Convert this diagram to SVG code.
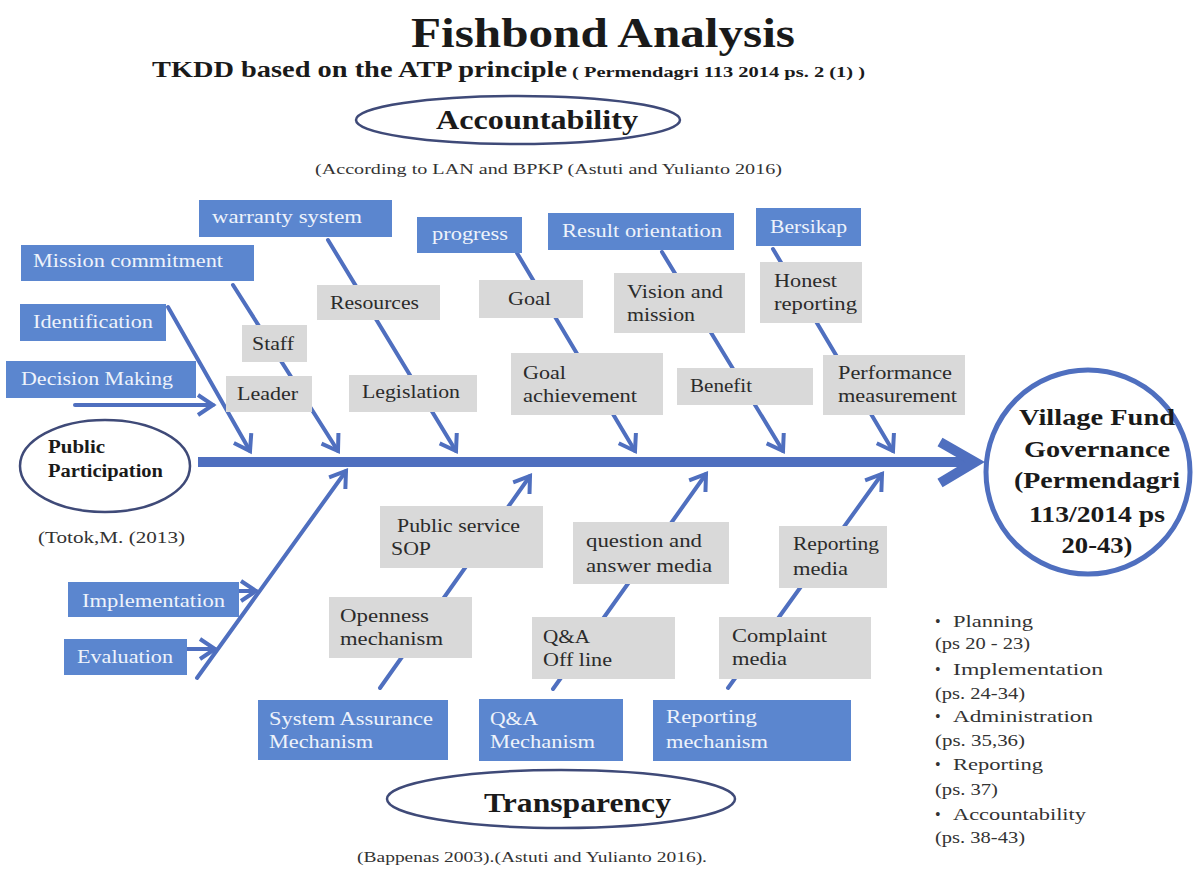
<svg xmlns="http://www.w3.org/2000/svg" width="1199" height="875" viewBox="0 0 1199 875">
<style>
.blue{fill:#5b86cf}
.gray{fill:#d9d9d9}
.bt{font-family:"Liberation Serif",serif;font-size:19px;fill:#eef3fb}
.gt{font-family:"Liberation Serif",serif;font-size:19px;fill:#2b2b2b}
.ln{stroke:#4f6fbf;stroke-width:4;fill:none;stroke-linecap:round}
.el{fill:#fff;stroke:#3f4a78;stroke-width:2.5}
.hd{font-family:"Liberation Serif",serif;font-weight:bold;fill:#1a1a1a}
.ct{font-family:"Liberation Serif",serif;font-size:15px;fill:#333}
.li{font-family:"Liberation Serif",serif;font-size:16px;fill:#333}
</style>
<defs>
<marker id="ah" viewBox="-22 -16 28 32" refX="0" refY="0" markerWidth="28" markerHeight="32" markerUnits="userSpaceOnUse" orient="auto">
<path d="M-15,-10 L0,0 L-15,10" fill="none" stroke="#4f6fbf" stroke-width="4"/>
</marker>
</defs>
<rect width="1199" height="875" fill="#fff"/>

<g id="title">
<text class="hd" x="411" y="47" font-size="42" textLength="384" lengthAdjust="spacingAndGlyphs">Fishbond Analysis</text>
<text class="hd" x="152" y="77" font-size="24" textLength="415" lengthAdjust="spacingAndGlyphs">TKDD based on the ATP principle</text>
<text class="hd" x="572" y="77" font-size="14" textLength="293" lengthAdjust="spacingAndGlyphs">( Permendagri 113 2014 ps. 2 (1) )</text>
</g>

<g id="connectors">
<line x1="198" y1="462" x2="972" y2="462" stroke="#4f6fbf" stroke-width="10"/>
<polyline points="940,442 975,462 940,483" fill="none" stroke="#4f6fbf" stroke-width="10"/>
<line class="ln" x1="168" y1="307" x2="250" y2="451" marker-end="url(#ah)"/>
<line class="ln" x1="233" y1="285" x2="338" y2="451" marker-end="url(#ah)"/>
<line class="ln" x1="328" y1="240" x2="456" y2="451" marker-end="url(#ah)"/>
<line class="ln" x1="517" y1="253" x2="635" y2="451" marker-end="url(#ah)"/>
<line class="ln" x1="662" y1="252" x2="783" y2="451" marker-end="url(#ah)"/>
<line class="ln" x1="773" y1="249" x2="893" y2="451" marker-end="url(#ah)"/>
<line class="ln" x1="75" y1="405" x2="213" y2="405" marker-end="url(#ah)"/>
<line class="ln" x1="197" y1="678" x2="346" y2="471" stroke-width="3" marker-end="url(#ah)"/>
<line class="ln" x1="200" y1="591" x2="256" y2="591" marker-end="url(#ah)"/>
<line class="ln" x1="150" y1="649" x2="215" y2="649" marker-end="url(#ah)"/>
<line class="ln" x1="380" y1="688" x2="530" y2="476" marker-end="url(#ah)"/>
<line class="ln" x1="553" y1="689" x2="706" y2="474" marker-end="url(#ah)"/>
<line class="ln" x1="728" y1="688" x2="882" y2="474" marker-end="url(#ah)"/>
</g>

<g id="accountability">
<ellipse class="el" cx="518" cy="120" rx="162" ry="24"/>
<text class="hd" x="436" y="129" font-size="28" textLength="202" lengthAdjust="spacingAndGlyphs">Accountability</text>
<text class="ct" x="315" y="174" textLength="467" lengthAdjust="spacingAndGlyphs">(According to LAN and BPKP (Astuti and Yulianto 2016)</text>
</g>

<g id="transparency">
<ellipse class="el" cx="561" cy="799" rx="174" ry="29"/>
<text class="hd" x="484" y="812" font-size="27" textLength="187" lengthAdjust="spacingAndGlyphs">Transparency</text>
<text class="ct" x="357" y="862" textLength="350" lengthAdjust="spacingAndGlyphs">(Bappenas 2003).(Astuti and Yulianto 2016).</text>
</g>

<g id="public-participation">
<ellipse class="el" cx="105" cy="466" rx="85" ry="46"/>
<text class="hd" x="48" y="453" font-size="18" textLength="57" lengthAdjust="spacingAndGlyphs">Public</text>
<text class="hd" x="48" y="477" font-size="18" textLength="115" lengthAdjust="spacingAndGlyphs">Participation</text>
<text class="li" x="38" y="543" textLength="147" lengthAdjust="spacingAndGlyphs">(Totok,M. (2013)</text>
</g>

<g id="warranty-system"><rect class="blue" x="199" y="200" width="193" height="37"/><text class="bt" x="212" y="223" textLength="150" lengthAdjust="spacingAndGlyphs">warranty system</text></g>
<g id="mission-commitment"><rect class="blue" x="21" y="245" width="233" height="36"/><text class="bt" x="33" y="267" textLength="190" lengthAdjust="spacingAndGlyphs">Mission commitment</text></g>
<g id="identification"><rect class="blue" x="20" y="304" width="146" height="37"/><text class="bt" x="33" y="328" textLength="120" lengthAdjust="spacingAndGlyphs">Identification</text></g>
<g id="decision-making"><rect class="blue" x="6" y="361" width="190" height="37"/><text class="bt" x="21" y="385" textLength="152" lengthAdjust="spacingAndGlyphs">Decision Making</text></g>
<g id="progress"><rect class="blue" x="417" y="217" width="105" height="36"/><text class="bt" x="432" y="240" textLength="76" lengthAdjust="spacingAndGlyphs">progress</text></g>
<g id="result-orientation"><rect class="blue" x="548" y="213" width="186" height="37"/><text class="bt" x="562" y="237" textLength="160" lengthAdjust="spacingAndGlyphs">Result orientation</text></g>
<g id="bersikap"><rect class="blue" x="756" y="208" width="105" height="38"/><text class="bt" x="770" y="233" textLength="77" lengthAdjust="spacingAndGlyphs">Bersikap</text></g>
<g id="implementation"><rect class="blue" x="68" y="582" width="171" height="35"/><text class="bt" x="82" y="607" textLength="143" lengthAdjust="spacingAndGlyphs">Implementation</text></g>
<g id="evaluation"><rect class="blue" x="64" y="639" width="123" height="36"/><text class="bt" x="77" y="663" textLength="96" lengthAdjust="spacingAndGlyphs">Evaluation</text></g>
<g id="system-assurance"><rect class="blue" x="258" y="700" width="190" height="60"/><text class="bt" x="269" y="725" textLength="164" lengthAdjust="spacingAndGlyphs">System Assurance</text><text class="bt" x="269" y="748" textLength="104" lengthAdjust="spacingAndGlyphs">Mechanism</text></g>
<g id="qa-mechanism"><rect class="blue" x="479" y="699" width="144" height="62"/><text class="bt" x="490" y="725" textLength="48" lengthAdjust="spacingAndGlyphs">Q&amp;A</text><text class="bt" x="490" y="748" textLength="105" lengthAdjust="spacingAndGlyphs">Mechanism</text></g>
<g id="reporting-mechanism"><rect class="blue" x="653" y="700" width="198" height="61"/><text class="bt" x="666" y="723" textLength="91" lengthAdjust="spacingAndGlyphs">Reporting</text><text class="bt" x="666" y="748" textLength="102" lengthAdjust="spacingAndGlyphs">mechanism</text></g>

<g id="staff"><rect class="gray" x="242" y="325" width="65" height="37"/><text class="gt" x="252" y="350" textLength="42" lengthAdjust="spacingAndGlyphs">Staff</text></g>
<g id="leader"><rect class="gray" x="226" y="376" width="86" height="36"/><text class="gt" x="237" y="400" textLength="61" lengthAdjust="spacingAndGlyphs">Leader</text></g>
<g id="resources"><rect class="gray" x="317" y="285" width="123" height="35"/><text class="gt" x="330" y="309" textLength="89" lengthAdjust="spacingAndGlyphs">Resources</text></g>
<g id="legislation"><rect class="gray" x="349" y="375" width="128" height="37"/><text class="gt" x="362" y="398" textLength="98" lengthAdjust="spacingAndGlyphs">Legislation</text></g>
<g id="goal"><rect class="gray" x="479" y="280" width="104" height="38"/><text class="gt" x="508" y="305" textLength="43" lengthAdjust="spacingAndGlyphs">Goal</text></g>
<g id="goal-achievement"><rect class="gray" x="511" y="353" width="152" height="62"/><text class="gt" x="523" y="379" textLength="43" lengthAdjust="spacingAndGlyphs">Goal</text><text class="gt" x="523" y="402" textLength="114" lengthAdjust="spacingAndGlyphs">achievement</text></g>
<g id="vision-mission"><rect class="gray" x="614" y="273" width="131" height="60"/><text class="gt" x="627" y="298" textLength="96" lengthAdjust="spacingAndGlyphs">Vision and</text><text class="gt" x="627" y="321" textLength="68" lengthAdjust="spacingAndGlyphs">mission</text></g>
<g id="benefit"><rect class="gray" x="677" y="368" width="136" height="37"/><text class="gt" x="690" y="392" textLength="62" lengthAdjust="spacingAndGlyphs">Benefit</text></g>
<g id="honest-reporting"><rect class="gray" x="760" y="262" width="102" height="61"/><text class="gt" x="774" y="287" textLength="63" lengthAdjust="spacingAndGlyphs">Honest</text><text class="gt" x="774" y="310" textLength="83" lengthAdjust="spacingAndGlyphs">reporting</text></g>
<g id="performance"><rect class="gray" x="823" y="355" width="142" height="60"/><text class="gt" x="838" y="379" textLength="114" lengthAdjust="spacingAndGlyphs">Performance</text><text class="gt" x="838" y="402" textLength="119" lengthAdjust="spacingAndGlyphs">measurement</text></g>
<g id="public-service-sop"><rect class="gray" x="380" y="506" width="163" height="62"/><text class="gt" x="397" y="532" textLength="123" lengthAdjust="spacingAndGlyphs">Public service</text><text class="gt" x="391" y="555" textLength="40" lengthAdjust="spacingAndGlyphs">SOP</text></g>
<g id="openness"><rect class="gray" x="329" y="597" width="143" height="61"/><text class="gt" x="340" y="622" textLength="89" lengthAdjust="spacingAndGlyphs">Openness</text><text class="gt" x="340" y="645" textLength="103" lengthAdjust="spacingAndGlyphs">mechanism</text></g>
<g id="question-answer"><rect class="gray" x="573" y="522" width="156" height="62"/><text class="gt" x="586" y="547" textLength="116" lengthAdjust="spacingAndGlyphs">question and</text><text class="gt" x="586" y="572" textLength="126" lengthAdjust="spacingAndGlyphs">answer media</text></g>
<g id="qa-offline"><rect class="gray" x="532" y="617" width="143" height="62"/><text class="gt" x="543" y="643" textLength="47" lengthAdjust="spacingAndGlyphs">Q&amp;A</text><text class="gt" x="543" y="666" textLength="69" lengthAdjust="spacingAndGlyphs">Off line</text></g>
<g id="reporting-media"><rect class="gray" x="779" y="526" width="108" height="62"/><text class="gt" x="793" y="550" textLength="86" lengthAdjust="spacingAndGlyphs">Reporting</text><text class="gt" x="793" y="575" textLength="55" lengthAdjust="spacingAndGlyphs">media</text></g>
<g id="complaint-media"><rect class="gray" x="719" y="617" width="152" height="62"/><text class="gt" x="732" y="642" textLength="95" lengthAdjust="spacingAndGlyphs">Complaint</text><text class="gt" x="732" y="665" textLength="55" lengthAdjust="spacingAndGlyphs">media</text></g>

<g id="village-fund">
<circle cx="1088" cy="472" r="102" fill="#fff" stroke="#4f6fbf" stroke-width="5"/>
<g class="hd" font-size="23" text-anchor="middle">
<text x="1097" y="425" textLength="156" lengthAdjust="spacingAndGlyphs">Village Fund</text>
<text x="1097" y="457" textLength="146" lengthAdjust="spacingAndGlyphs">Governance</text>
<text x="1097" y="488" textLength="166" lengthAdjust="spacingAndGlyphs">(Permendagri</text>
<text x="1097" y="522" textLength="136" lengthAdjust="spacingAndGlyphs">113/2014 ps</text>
<text x="1097" y="553" textLength="71" lengthAdjust="spacingAndGlyphs">20-43)</text>
</g>
</g>

<g id="stages">
<text class="li" x="935" y="627">•</text><text class="li" x="953" y="627" textLength="80" lengthAdjust="spacingAndGlyphs">Planning</text>
<text class="li" x="935" y="649" textLength="95" lengthAdjust="spacingAndGlyphs">(ps 20 - 23)</text>
<text class="li" x="935" y="675">•</text><text class="li" x="953" y="675" textLength="150" lengthAdjust="spacingAndGlyphs">Implementation</text>
<text class="li" x="935" y="699" textLength="90" lengthAdjust="spacingAndGlyphs">(ps. 24-34)</text>
<text class="li" x="935" y="722">•</text><text class="li" x="953" y="722" textLength="140" lengthAdjust="spacingAndGlyphs">Administration</text>
<text class="li" x="935" y="746" textLength="90" lengthAdjust="spacingAndGlyphs">(ps. 35,36)</text>
<text class="li" x="935" y="770">•</text><text class="li" x="953" y="770" textLength="90" lengthAdjust="spacingAndGlyphs">Reporting</text>
<text class="li" x="935" y="795" textLength="63" lengthAdjust="spacingAndGlyphs">(ps. 37)</text>
<text class="li" x="935" y="820">•</text><text class="li" x="953" y="820" textLength="133" lengthAdjust="spacingAndGlyphs">Accountability</text>
<text class="li" x="935" y="843" textLength="90" lengthAdjust="spacingAndGlyphs">(ps. 38-43)</text>
</g>
</svg>
